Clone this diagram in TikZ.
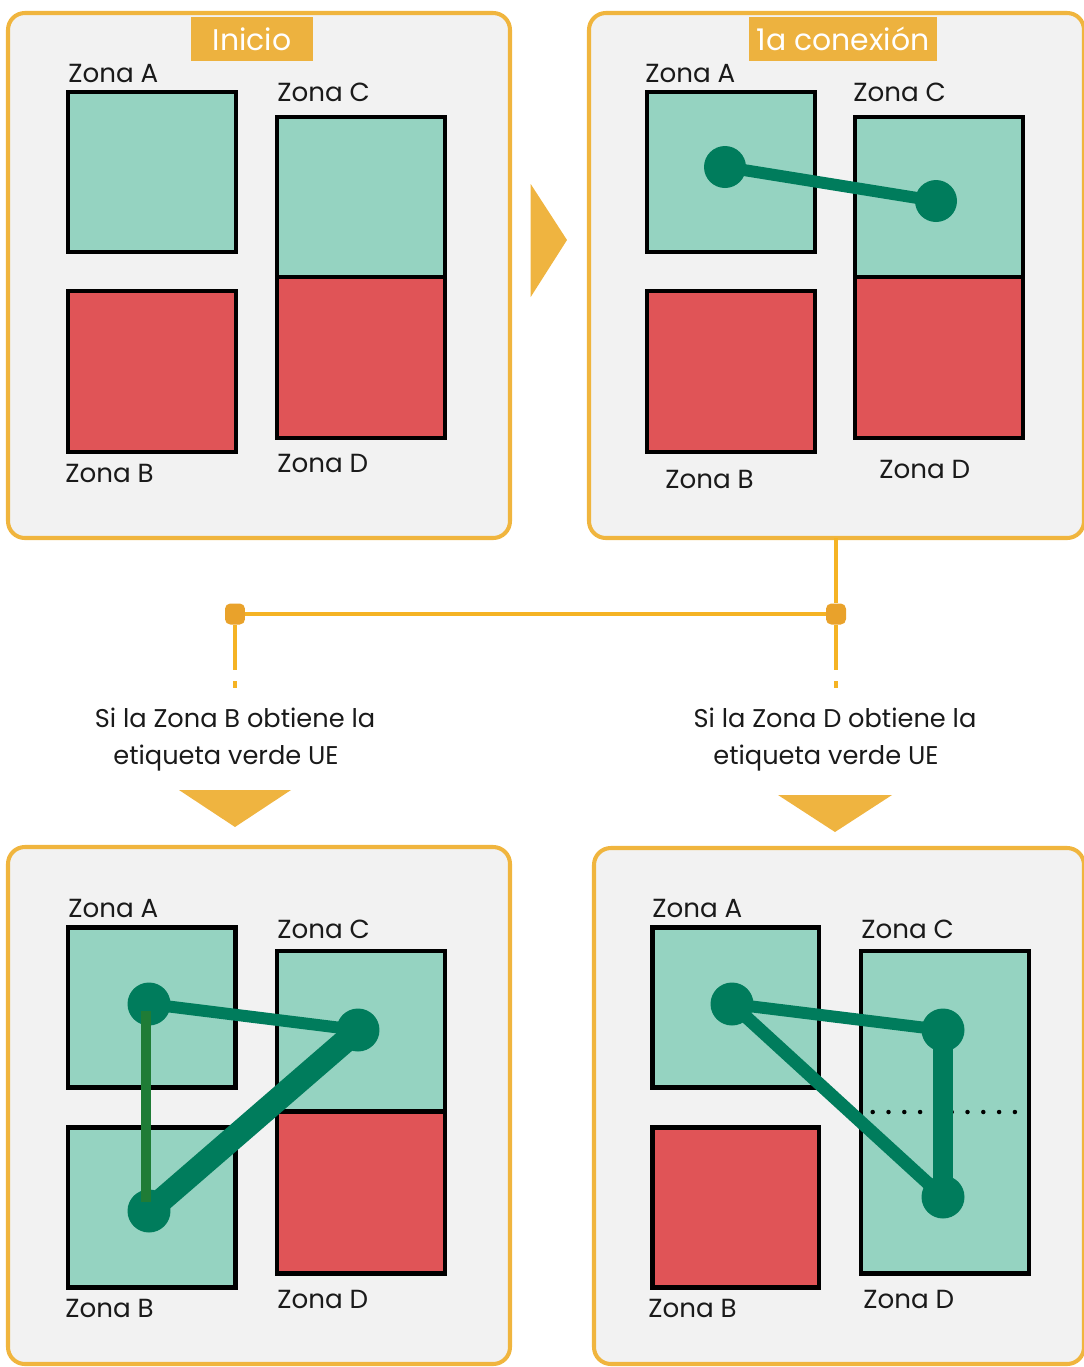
\documentclass[tikz,border=0pt]{standalone}
\usepackage{fontspec}
\setmainfont{Poppins}
\usepackage{xcolor}
\usetikzlibrary{positioning}
\usetikzlibrary{calc}

\definecolor{panelfill}{HTML}{F2F2F2}
\definecolor{panelline}{HTML}{F0B53E}
\definecolor{tabfill}{HTML}{EDB23F}
\definecolor{zonegreen}{HTML}{95D3C1}
\definecolor{zonered}{HTML}{E05457}
\definecolor{dotgreen}{HTML}{007C5C}
\definecolor{lightlink}{HTML}{1F7C36}
\definecolor{wire}{HTML}{F5B324}
\definecolor{joint}{HTML}{E9A22B}
\definecolor{pointer}{HTML}{EFB440}
\definecolor{ink}{HTML}{1A1A1A}

\tikzset{
	panel/.style={draw=panelline, fill=panelfill, line width=2.3pt, rounded corners=9.6pt},
	tab/.style={fill=tabfill, text=white, inner sep=0pt, minimum height=0.88cm, font=\fontsize{17pt}{20pt}\selectfont},
	okzone/.style={draw=black, fill=zonegreen, line width=2.8pt},
	badzone/.style={draw=black, fill=zonered, line width=2.8pt},
	zonelabel/.style={anchor=base west, inner sep=0pt, text=ink, font=\fontsize{14.9pt}{18pt}\selectfont},
	link/.style={draw=dotgreen, line width=6.8pt},
	biglink/.style={draw=dotgreen, line width=13.5pt},
	wireline/.style={draw=wire, line width=2.3pt},
	jointbox/.style={fill=joint, rounded corners=3pt, minimum width=0.4cm, minimum height=0.42cm, inner sep=0pt},
	note/.style={align=center, text=ink, inner sep=0pt, font=\fontsize{14.6pt}{21pt}\selectfont}
}

\begin{document}
\begin{tikzpicture}[x=0.02cm, y=-0.02cm]
				\useasboundingbox (0,0) rectangle (1084,1367);
				% panels
				\draw[panel] (8,13) rectangle (510,538);
				\draw[panel] (589,13) rectangle (1084,538);
				\draw[panel] (8,847) rectangle (510,1364);
				\draw[panel] (594,848) rectangle (1084,1364);
				\node[tab, minimum width=2.44cm] (inicio) at (252,39) {Inicio};
				\node[tab, minimum width=3.76cm] (conexion) at (843,39) {1a conexión};
				
				% arrow between top panels
				\fill[pointer] (530.7,184) -- (567,240) -- (530.7,297) -- cycle;
				
				% panel 1: start
				\draw[okzone] (68,92) rectangle (236,252);
				\draw[badzone] (68,291) rectangle (236,452);
				\draw[okzone] (277,117) rectangle (445,277);
				\draw[badzone] (277,277) rectangle (445,438);
				\node[zonelabel] (za1) at (68,82) {Zona A};
				\node[zonelabel] (zc1) at (277,101) {Zona C};
				\node[zonelabel] (zb1) at (65,482) {Zona B};
				\node[zonelabel] (zd1) at (277,472) {Zona D};
				
				% panel 2: first connection
				\draw[okzone] (647,92) rectangle (815,252);
				\draw[badzone] (647,291) rectangle (815,452);
				\draw[okzone] (855,117) rectangle (1023,277);
				\draw[badzone] (855,277) rectangle (1023,438);
				\node[zonelabel] (za2) at (645,82) {Zona A};
				\node[zonelabel] (zc2) at (853,101) {Zona C};
				\node[zonelabel] (zb2) at (665,488) {Zona B};
				\node[zonelabel] (zd2) at (879,478) {Zona D};
				\coordinate (a2) at (725,167);
				\coordinate (c2) at (936,201);
				\draw[link] (a2) -- (c2);
				\fill[dotgreen] (a2) circle (0.42cm) (c2) circle (0.42cm);
				
				% split into the two cases
				\node[jointbox] (jl) at (235,614) {};
				\node[jointbox] (jr) at (836,614) {};
				\coordinate (top) at (836,538);
				\coordinate (dl) at (235,670);
				\coordinate (dr) at (836,670);
				\draw[wireline] (top) -- (jr);
				\draw[wireline] (jl) -- (jr);
				\draw[wireline] (jl) -- (dl);
				\draw[wireline] (jr) -- (dr);
				\draw[wireline] (235,681) -- (235,688);
				\draw[wireline] (836,681) -- (836,688);
				\node[note] (casob) at (235,740) {Si la Zona B obtiene la\\etiqueta verde UE\hspace*{0.36cm}};
				\node[note] (casod) at (835,740) {Si la Zona D obtiene la\\etiqueta verde UE\hspace*{0.36cm}};
				\fill[pointer] (179,790) -- (291,790) -- (235,827) -- cycle;
				\fill[pointer] (778,795) -- (892,795) -- (835,832) -- cycle;
				
				% panel 3: zone B gets the label
				\draw[okzone] (68,927.5) rectangle (235.5,1087.5);
				\draw[okzone] (68,1127.5) rectangle (235.5,1287.5);
				\draw[okzone] (277,951) rectangle (445,1111.6);
				\draw[badzone] (277,1111.6) rectangle (445,1273.5);
				\node[zonelabel] (za3) at (68,917) {Zona A};
				\node[zonelabel] (zc3) at (277,938) {Zona C};
				\node[zonelabel] (zb3) at (65,1317) {Zona B};
				\node[zonelabel] (zd3) at (277,1308) {Zona D};
				\coordinate (a3) at (149,1004);
				\coordinate (c3) at (358,1030);
				\coordinate (b3) at (149,1211);
				\draw[link] (a3) -- (c3);
				\draw[biglink] (b3) -- (c3);
				\fill[dotgreen] (a3) circle (0.43cm) (c3) circle (0.43cm) (b3) circle (0.43cm);
				\draw[draw=lightlink, line width=5.7pt] (146,1011) -- (146,1202);
				
				% panel 4: zone D gets the label
				\draw[okzone] (652.5,927.5) rectangle (819,1087.5);
				\draw[badzone] (652.5,1127.5) rectangle (819,1287.5);
				\draw[okzone] (861,951) rectangle (1029,1273.5);
				\node[zonelabel] (za4) at (652,917) {Zona A};
				\node[zonelabel] (zc4) at (861,938) {Zona C};
				\node[zonelabel] (zb4) at (648,1317) {Zona B};
				\node[zonelabel] (zd4) at (863,1308) {Zona D};
				\foreach \k in {0,...,9}
					\fill[black] (872.7+15.8*\k,1112) circle (0.045cm);
				\coordinate (a4) at (732,1004);
				\coordinate (c4) at (943,1030);
				\coordinate (d4) at (943,1197);
				\draw[link] (a4) -- (c4);
				\draw[link, line width=7.4pt] (a4) -- (d4);
				\draw[biglink, line width=11.5pt] (c4) -- (d4);
				\fill[dotgreen] (a4) circle (0.43cm) (c4) circle (0.43cm) (d4) circle (0.43cm);
\end{tikzpicture}
\end{document}
